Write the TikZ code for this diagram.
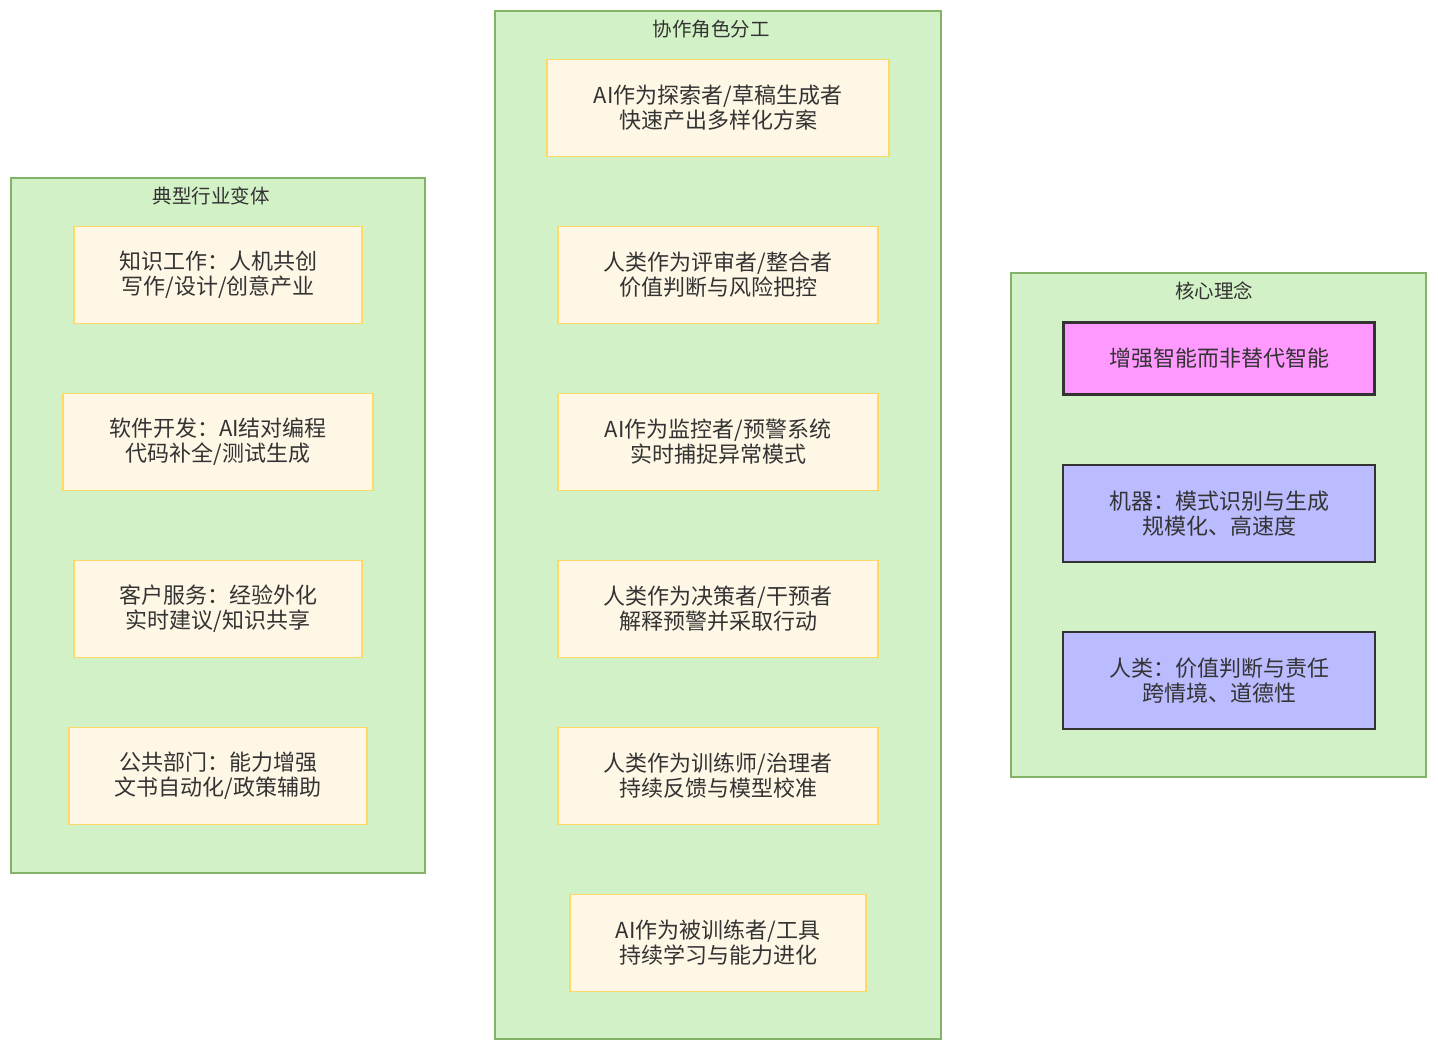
\documentclass[tikz,border=0pt]{standalone}
\usepackage{fontspec}
\setmainfont{Noto Sans CJK SC}
\definecolor{clfill}{HTML}{D3F1C6}
\definecolor{clline}{HTML}{82B366}
\definecolor{bxfill}{HTML}{FFF7E6}
\definecolor{bxline}{HTML}{FFD966}
\definecolor{txt}{HTML}{333333}
\definecolor{mag}{HTML}{FF99FF}
\definecolor{lav}{HTML}{BBBBFF}
\tikzset{
  cluster/.style={draw=clline, fill=clfill, line width=1.2pt},
  ctitle/.style={text=txt, font=\fontsize{19.5}{22}\selectfont, inner sep=0pt},
  box/.style={draw=bxline, fill=bxfill, line width=1.2pt, text=txt, align=center,
     font=\fontsize{22}{25}\selectfont, inner sep=0pt},
  core/.style={draw=txt, fill=mag, line width=3pt, text=txt, align=center,
     font=\fontsize{22}{25}\selectfont, inner sep=0pt},
  fact/.style={draw=txt, fill=lav, line width=1.2pt, text=txt, align=center,
     font=\fontsize{22}{25}\selectfont, inner sep=0pt},
}
\begin{document}
\begin{tikzpicture}[x=1pt,y=-1pt]
\useasboundingbox[fill=white] (0,0) rectangle (1438,1052);
% clusters
\draw[cluster] (11,178) rectangle (425,873);
\node[ctitle] (t1) at (211,196) {典型行业变体};
\draw[cluster] (495,11) rectangle (941,1039);
\node[ctitle] (t2) at (711,29) {协作角色分工};
\draw[cluster] (1011,273) rectangle (1426,777);
\node[ctitle] (t3) at (1214,291) {核心理念};
% left boxes
\node[box, minimum width=288pt, minimum height=97pt] (l1) at (218,275) {知识工作：人机共创\\写作/设计/创意产业};
\node[box, minimum width=310pt, minimum height=97pt] (l2) at (218,442) {软件开发：AI结对编程\\代码补全/测试生成};
\node[box, minimum width=288pt, minimum height=97pt] (l3) at (218,609) {客户服务：经验外化\\实时建议/知识共享};
\node[box, minimum width=298pt, minimum height=97pt] (l4) at (218,776) {公共部门：能力增强\\文书自动化/政策辅助};
% middle boxes
\node[box, minimum width=342pt, minimum height=97pt] (m1) at (718,108) {AI作为探索者/草稿生成者\\快速产出多样化方案};
\node[box, minimum width=320pt, minimum height=97pt] (m2) at (718,275) {人类作为评审者/整合者\\价值判断与风险把控};
\node[box, minimum width=320pt, minimum height=97pt] (m3) at (718,442) {AI作为监控者/预警系统\\实时捕捉异常模式};
\node[box, minimum width=320pt, minimum height=97pt] (m4) at (718,609) {人类作为决策者/干预者\\解释预警并采取行动};
\node[box, minimum width=320pt, minimum height=97pt] (m5) at (718,776) {人类作为训练师/治理者\\持续反馈与模型校准};
\node[box, minimum width=296pt, minimum height=97pt] (m6) at (718,943) {AI作为被训练者/工具\\持续学习与能力进化};
% right boxes
\node[core, minimum width=311pt, minimum height=72pt] (r1) at (1219,358.5) {增强智能而非替代智能};
\node[fact, minimum width=312pt, minimum height=97pt] (r2) at (1219,513.5) {机器：模式识别与生成\\规模化、高速度};
\node[fact, minimum width=312pt, minimum height=97pt] (r3) at (1219,680.5) {人类：价值判断与责任\\跨情境、道德性};
\end{tikzpicture}
\end{document}
